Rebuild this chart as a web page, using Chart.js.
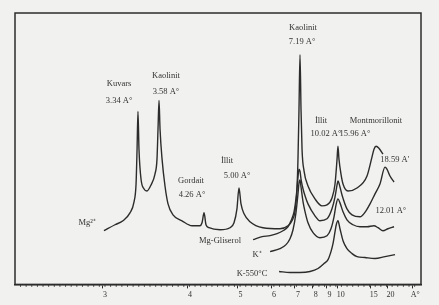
<!DOCTYPE html>
<html>
<head>
<meta charset="utf-8">
<script src="https://cdn.jsdelivr.net/npm/chart.js@4.4.1/dist/chart.umd.min.js"></script>
<style>
  html, body { margin: 0; padding: 0; background: #f1f1ef; }
  #wrap { width: 439px; height: 305px; }
</style>
</head>
<body>
<div id="wrap"><canvas id="xrd" width="439" height="305"></canvas></div>
<script>
// 2-theta (deg, Cu K-alpha) and relative intensity
var mgTheta = [29.59,28.61,27.90,27.28,26.92,26.74,26.65,26.57,26.48,26.30,26.03,25.77,25.41,25.06,24.88,24.79,24.70,24.61,24.43,24.17,23.90,23.46,22.66,21.77,21.06,20.88,20.70,20.53,20.26,19.28,18.40,18.04,17.78,17.60,17.42,17.15,16.62,15.47,13.96,13.25,12.89,12.62,12.45,12.36,12.27,12.18,12.09,12.00,11.82,11.47,10.85,10.23,9.78,9.34,9.07,8.89,8.81,8.72,8.54,8.36,7.92,7.12,6.23,5.79,5.61,5.43,5.17,4.81];
var mgInt   = [54,60,64,72,83,101,136,174,136,106,96,94,100,111,126,156,185,156,126,99,81,70,64,59,59,62,72,60,57,55,57,62,76,97,81,71,63,57,56,59,64,74,96,126,176,231,176,136,114,99,86,79,80,87,101,126,139,126,111,101,94,97,109,128,136,139,137,131];

var glyTheta = [16.35,15.55,14.84,14.22,13.69,13.25,12.98,12.71,12.54,12.45,12.36,12.27,12.18,12.09,11.91,11.73,11.47,10.85,10.41,9.78,9.34,9.07,8.89,8.81,8.63,8.45,8.01,7.56,6.85,6.32,5.96,5.52,5.08,4.63,4.46,4.19,3.83];
var glyInt   = [45,48,49,51,54,58,64,73,86,96,108,116,114,106,96,89,81,69,64,66,76,88,100,104,98,90,76,70,68,74,81,91,101,118,116,109,103];

var kTheta = [14.84,13.96,13.42,13.07,12.80,12.54,12.36,12.27,12.18,12.09,11.91,11.73,11.47,11.02,10.41,9.78,9.43,9.16,8.98,8.81,8.63,8.36,8.01,7.47,6.85,6.23,5.61,5.25,4.81,4.37,3.83];
var kInt   = [33,36,40,46,55,72,91,102,105,98,83,73,62,52,47,49,56,68,80,86,82,73,65,60,58,58,59,57,54,56,58];

var k550Theta = [14.04,13.07,12.18,11.29,10.58,10.05,9.69,9.43,9.25,9.07,8.98,8.81,8.63,8.36,8.01,7.56,7.12,6.41,5.52,4.63,3.74];
var k550Int   = [13,12,12,13,16,21,25,33,41,53,59,64,56,44,36,31,28,27,26,28,30];

// x axis: labelled in d-spacing (A)
var tickD = [3,4,5,6,7,8,9,10,15,20,40];
var tickLabels = ['3','4','5','6','7','8','9','10','15','20','A°'];

// peak and curve notes
var noteText  = ['Kuvars','3.34 A°','Kaolinit','3.58 A°','Gordait','4.26 A°','İllit','5.00 A°','Kaolinit','7.19 A°','İllit','10.02 A°','Montmorillonit','15.96 A°','18.59 A\'','12.01 A°','Mg²⁺','Mg-Gliserol','K⁺','K-550°C'];
var noteTheta = [28.25,28.25,24.08,24.08,21.86,21.77,18.66,17.77,11.91,12.00,10.31,9.87,5.43,7.30,3.76,4.11,31.09,19.28,16.00,16.44];
var noteInt   = [202,185,210,194,104,90,124,109,258,244,165,152,165,152,125,74,62,44,30,11];

function dToTheta(d) { return 2 * Math.asin(1.5406 / (2 * d)) * 180 / Math.PI; }
function pts(tx, iy) { return tx.map(function (t, i) { return { x: t, y: iy[i] }; }); }

var ink = '#2c2c2c';

var frame = {
  id: 'frame',
  afterDraw: function (chart) {
    var a = chart.chartArea, ctx = chart.ctx, xs = chart.scales.x;
    ctx.save();
    ctx.strokeStyle = ink;
    ctx.lineWidth = 1.5;
    ctx.strokeRect(a.left, a.top, a.right - a.left, a.bottom - a.top);
    // minor ticks every half degree
    ctx.lineWidth = 0.8;
    ctx.beginPath();
    for (var t = 2; t <= 37; t += 0.5) {
      var px = xs.getPixelForValue(t);
      ctx.moveTo(px, a.bottom);
      ctx.lineTo(px, a.bottom + 2.5);
    }
    ctx.stroke();
    // notes
    ctx.fillStyle = '#333';
    ctx.font = '8.5px "Liberation Serif", serif';
    ctx.textAlign = 'center';
    ctx.textBaseline = 'middle';
    var ys = chart.scales.y;
    noteText.forEach(function (s, i) {
      ctx.fillText(s, xs.getPixelForValue(noteTheta[i]), ys.getPixelForValue(noteInt[i]));
    });
    ctx.restore();
  }
};

var line = { borderColor: ink, borderWidth: 1.4, pointRadius: 0, fill: false, cubicInterpolationMode: 'monotone' };

new Chart(document.getElementById('xrd'), {
  type: 'line',
  data: {
    datasets: [
      Object.assign({ label: 'Mg²⁺', data: pts(mgTheta, mgInt) }, line),
      Object.assign({ label: 'Mg-Gliserol', data: pts(glyTheta, glyInt) }, line),
      Object.assign({ label: 'K⁺', data: pts(kTheta, kInt) }, line),
      Object.assign({ label: 'K-550°C', data: pts(k550Theta, k550Int) }, line)
    ]
  },
  options: {
    responsive: false,
    animation: false,
    devicePixelRatio: 1,
    layout: { padding: { left: 15, right: 18, top: 13, bottom: 3 } },
    plugins: { legend: { display: false }, tooltip: { enabled: false } },
    scales: {
      x: {
        type: 'linear',
        reverse: true,
        min: 1.435,
        max: 37.49,
        afterBuildTicks: function (axis) {
          axis.ticks = tickD.map(function (d) { return { value: dToTheta(d) }; });
        },
        grid: { drawOnChartArea: false, drawTicks: true, tickLength: 4, color: ink },
        border: { display: true, color: ink, width: 1.5 },
        ticks: {
          autoSkip: false,
          maxRotation: 0,
          padding: 2,
          labelOffset: 3,
          color: '#333',
          font: { family: '"Liberation Serif", serif', size: 8 },
          callback: function (v, i) { return tickLabels[i]; }
        }
      },
      y: { display: false, min: 0, max: 273 }
    }
  },
  plugins: [frame]
});
</script>
</body>
</html>
